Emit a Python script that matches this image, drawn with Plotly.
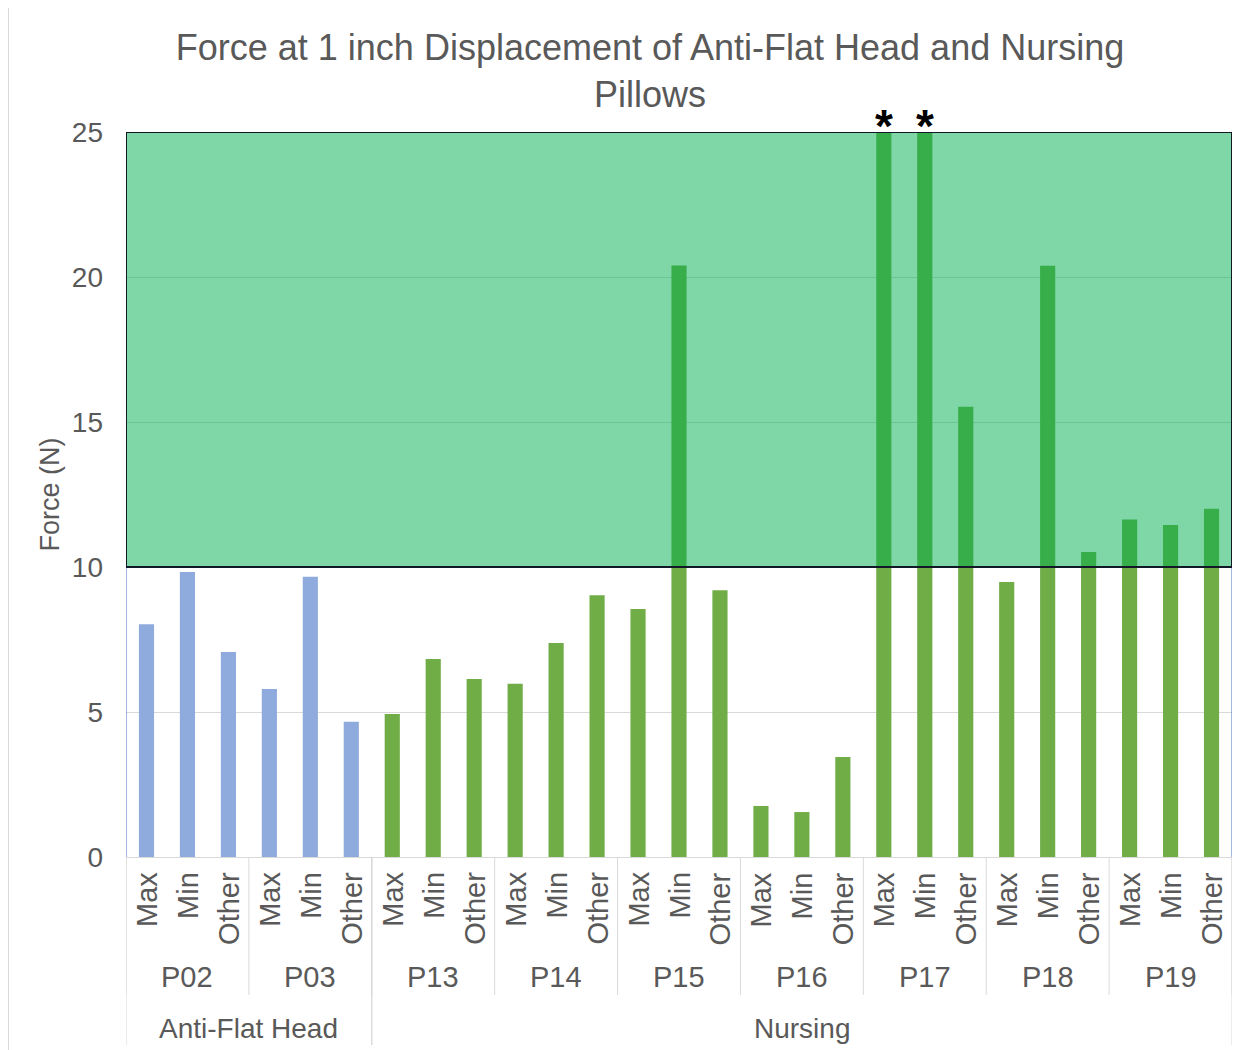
import plotly.graph_objects as go

# ---- data ----
groups = ["P02", "P03", "P13", "P14", "P15", "P16", "P17", "P18", "P19"]
group_types = ["Anti-Flat Head", "Anti-Flat Head", "Nursing", "Nursing", "Nursing",
               "Nursing", "Nursing", "Nursing", "Nursing"]
measures = ["Max", "Min", "Other"]
values = {
    "P02": [8.03, 9.83, 7.07],
    "P03": [5.79, 9.66, 4.66],
    "P13": [4.93, 6.83, 6.14],
    "P14": [5.97, 7.38, 9.03],
    "P15": [8.55, 20.40, 9.20],
    "P16": [1.76, 1.55, 3.45],
    "P17": [25.0, 25.0, 15.53],
    "P18": [9.48, 20.39, 10.52],
    "P19": [11.64, 11.45, 12.01],
}
starred = [("P17", "Max"), ("P17", "Min")]
threshold_low, threshold_high = 10, 25
y_ticks = [0, 5, 10, 15, 20, 25]
type_colors = {"Anti-Flat Head": "#8FAADC", "Nursing": "#70AD47"}

# ---- build ----
x_ids, y_vals, colors = [], [], []
for g, t in zip(groups, group_types):
    for m, v in zip(measures, values[g]):
        x_ids.append(f"{g} {m}")
        y_vals.append(v)
        colors.append(type_colors[t])

FONT = "Liberation Sans, Arial, sans-serif"
GREY = "#595959"

fig = go.Figure(go.Bar(x=x_ids, y=y_vals, marker=dict(color=colors, line=dict(width=0)),
                       showlegend=False, hoverinfo="x+y"))

OFF = 8  # page body margin
W, H = 1242, 1042
L, R, T, B = 118, 18, 124, 193
plot_h = H - T - B
plot_w = W - L - R

def py(px_page):
    return (H - B - (px_page - OFF)) / plot_h

def px(px_page):
    return (px_page - OFF - L) / plot_w

shapes = []
annotations = []

# plot side lines (blue)
for xe in [-0.5, len(x_ids) - 0.5]:
    shapes.append(dict(type="line", xref="x", yref="y", x0=xe, x1=xe, y0=0, y1=threshold_high,
                       line=dict(color="#4472C4", width=1), layer="above"))

# green threshold region overlay
shapes.append(dict(type="rect", xref="x", yref="y", x0=-0.5, x1=len(x_ids) - 0.5,
                   y0=threshold_low, y1=threshold_high,
                   fillcolor="rgba(0,176,80,0.5)", line=dict(color="#111827", width=2),
                   layer="above"))

# inner labels
for g in groups:
    for m in measures:
        annotations.append(dict(x=f"{g} {m}", xref="x", y=py(870), yref="paper",
                                text=m, textangle=-90, showarrow=False, yanchor="top",
                                xanchor="center", font=dict(family=FONT, size=29, color=GREY)))

# group labels and dividers
for i, g in enumerate(groups):
    annotations.append(dict(x=i * 3 + 1, xref="x", y=py(977), yref="paper", text=g,
                            showarrow=False, yanchor="middle",
                            font=dict(family=FONT, size=29, color=GREY)))
for i in range(len(groups) + 1):
    xb = i * 3 - 0.5
    shapes.append(dict(type="line", xref="x", yref="paper", x0=xb, x1=xb, y0=0, y1=py(995),
                       line=dict(color="#D9D9D9", width=1)))

# type labels and dividers
type_names = []
for t in group_types:
    if t not in type_names:
        type_names.append(t)
for t in type_names:
    idx = [i for i, gt in enumerate(group_types) if gt == t]
    start, end = idx[0] * 3 - 0.5, (idx[-1] + 1) * 3 - 0.5
    annotations.append(dict(x=(start + end) / 2, xref="x", y=py(1028), yref="paper", text=t,
                            showarrow=False, yanchor="middle",
                            font=dict(family=FONT, size=28, color=GREY)))
    for xb in (start, end):
        shapes.append(dict(type="line", xref="x", yref="paper", x0=xb, x1=xb, y0=0, y1=py(1045),
                           line=dict(color="#D9D9D9", width=1)))

# asterisks
for g, m in starred:
    annotations.append(dict(x=f"{g} {m}", xref="x", y=threshold_high, yref="y", text="<b>*</b>",
                            showarrow=False, yanchor="middle", yshift=6,
                            font=dict(family=FONT, size=46, color="black")))

# outer image border (top and left)
shapes.append(dict(type="line", xref="paper", yref="paper", x0=px(8), x1=px(1260),
                   y0=py(7), y1=py(7), line=dict(color="#D9D9D9", width=2)))
shapes.append(dict(type="line", xref="paper", yref="paper", x0=px(8), x1=px(8),
                   y0=py(7), y1=py(1060), line=dict(color="#D9D9D9", width=2)))

fig.update_layout(
    width=W, height=H,
    margin=dict(l=L, r=R, t=T, b=B),
    paper_bgcolor="white", plot_bgcolor="white",
    title=dict(text="Force at 1 inch Displacement of Anti-Flat Head and Nursing<br>Pillows",
               x=(650 - OFF) / W, xanchor="center", xref="container",
               y=1 - 52 / H, yanchor="top", yref="container",
               font=dict(family=FONT, size=36, color=GREY)),
    bargap=0.63,
    shapes=shapes,
    annotations=annotations,
    font=dict(family=FONT, color=GREY),
)
fig.update_xaxes(type="category", showticklabels=False, showgrid=False, ticks="",
                 showline=True, linecolor="#D9D9D9", linewidth=1, range=[-0.5, len(x_ids) - 0.5])
fig.update_yaxes(range=[0, threshold_high], tickvals=y_ticks, showgrid=True, gridcolor="#D9D9D9",
                 gridwidth=1, zeroline=False, showline=False, ticklabelstandoff=22,
                 tickfont=dict(family=FONT, size=28, color=GREY),
                 title=dict(text="Force (N)", font=dict(family=FONT, size=27, color=GREY), standoff=4))

fig.write_html("out.html")
